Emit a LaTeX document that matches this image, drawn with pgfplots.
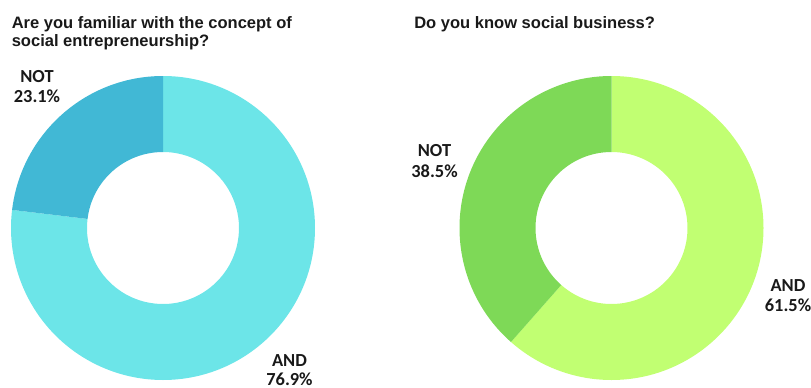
\documentclass[border=0pt]{standalone}
\usepackage{pgfplots}
\pgfplotsset{compat=1.18}
\usepackage{pgfplotstable}
\usepackage{fontspec}
\setmainfont{Liberation Sans}
\newfontfamily\labfont{Carlito}
\definecolor{cyanA}{HTML}{6CE5E8}
\definecolor{cyanN}{HTML}{41B8D5}
\definecolor{greenA}{HTML}{C1FF72}
\definecolor{greenN}{HTML}{7ED957}

\pgfplotstableread{
answer share
AND 76.9
NOT 23.1
}\familiar
\pgfplotstableread{
answer share
AND 61.5
NOT 38.5
}\socialbiz

\pgfplotstablegetelem{0}{share}\of\familiar \let\famAND\pgfplotsretval
\pgfplotstablegetelem{1}{share}\of\familiar \let\famNOT\pgfplotsretval
\pgfplotstablegetelem{0}{share}\of\socialbiz \let\socAND\pgfplotsretval
\pgfplotstablegetelem{1}{share}\of\socialbiz \let\socNOT\pgfplotsretval
\pgfmathsetmacro\famSplit{90-3.6*\famAND}
\pgfmathsetmacro\socSplit{90-3.6*\socAND}

% #1 cx, #2 cy (pixels), #3 start angle, #4 end angle, #5 colour
\newcommand{\donutseg}[5]{%
  \fill[#5] (axis cs:#1,#2) ++({#3}:114pt) arc[start angle={#3},end angle={#4},radius=114pt]
    -- ++({#4+180}:57pt) arc[start angle={#4},end angle={#3},radius=57pt] -- cycle;}
% #1 x, #2 baseline 1, #3 baseline 2, #4 line 1, #5 line 2
\newcommand{\donutlab}[5]{%
  \node[lab] at (axis cs:#1,#2) {#4};
  \node[lab] at (axis cs:#1,#3) {#5};}

\begin{document}
\begin{tikzpicture}
\begin{axis}[width=608.25pt,height=290.25pt,scale only axis,
  xmin=0,xmax=811,ymin=0,ymax=387,hide axis,clip=false]
  % left donut
  \donutseg{163}{159}{90}{\famSplit}{cyanA}
  \donutseg{163}{159}{\famSplit}{-270}{cyanN}
  % right donut
  \donutseg{611.5}{159}{90}{\socSplit}{greenA}
  \donutseg{611.5}{159}{\socSplit}{-270}{greenN}
  % titles
  \tikzset{ttl/.style={anchor=base west,inner sep=0pt,font=\bfseries\fontsize{12.4}{14}\selectfont,text=black!90}}
  \node[ttl] at (axis cs:11.5,358.7) {Are you familiar with the concept of};
  \node[ttl] at (axis cs:11.5,341) {social entrepreneurship?};
  \node[ttl] at (axis cs:414,358.7) {Do you know social business?};
  % labels
  \tikzset{lab/.style={anchor=base,inner sep=0pt,font=\labfont\bfseries\fontsize{13.8}{15}\selectfont,text=black!90}}
  \donutlab{37}{304.7}{284.3}{NOT}{\famNOT\%}
  \donutlab{289.5}{21}{2}{AND}{\famAND\%}
  \donutlab{434.5}{230.3}{209.7}{NOT}{\socNOT\%}
  \donutlab{788}{95.3}{75.3}{AND}{\socAND\%}
\end{axis}
\pgfresetboundingbox
\useasboundingbox (current axis.south west) rectangle (current axis.north east);
\end{tikzpicture}
\end{document}
